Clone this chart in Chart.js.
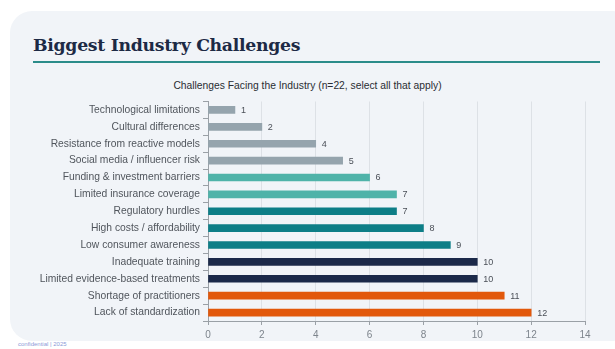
<!DOCTYPE html>
<html>
<head>
<meta charset="utf-8">
<script src="https://cdn.jsdelivr.net/npm/chart.js@4"></script>
<style>
  html, body { margin: 0; padding: 0; background: #fff; width: 615px; height: 349px; overflow: hidden; }
  #card {
    position: absolute; left: 10px; top: 11px; width: 625px; height: 330px;
    background: #f1f4f8; border-radius: 22px;
  }
  #heading {
    position: absolute; left: 33px; top: 35px; margin: 0;
    font-family: "DejaVu Serif", "Liberation Serif", serif; font-weight: bold;
    font-size: 17.3px; color: #1d2a45; letter-spacing: -0.3px;
  }
  #rule { position: absolute; left: 33px; top: 61px; width: 567px; height: 2px; background: #2b8c8a; }
  #subtitle {
    position: absolute; left: 0; top: 80px; width: 615px; text-align: center;
    font: 10.3px "Liberation Sans", Arial, sans-serif; color: #2a2d33;
  }
  #foot { position: absolute; left: 18px; top: 341px; font: 6px "Liberation Sans", Arial, sans-serif; color: #8c9ad8; }
  #wrap { position: absolute; left: 0; top: 90px; width: 615px; height: 255px; }
</style>
</head>
<body>
<div id="card"></div>
<h1 id="heading">Biggest Industry Challenges</h1>
<div id="rule"></div>
<div id="subtitle">Challenges Facing the Industry (n=22, select all that apply)</div>
<div id="foot">confidential | 2025</div>
<div id="wrap"><canvas id="chart"></canvas></div>
<script>
const categories = [
  'Technological limitations',
  'Cultural differences',
  'Resistance from reactive models',
  'Social media / influencer risk',
  'Funding & investment barriers',
  'Limited insurance coverage',
  'Regulatory hurdles',
  'High costs / affordability',
  'Low consumer awareness',
  'Inadequate training',
  'Limited evidence-based treatments',
  'Shortage of practitioners',
  'Lack of standardization'
];
const counts = [1, 2, 4, 5, 6, 7, 7, 8, 9, 10, 10, 11, 12];
const barColors = [
  '#95a4ad', '#95a4ad', '#95a4ad', '#95a4ad',
  '#4fb3a9', '#4fb3a9',
  '#0d7e87', '#0d7e87', '#0d7e87',
  '#1b2949', '#1b2949',
  '#e2580b', '#e2580b'
];
const xTicks = [0, 2, 4, 6, 8, 10, 12, 14];

// draws the value next to each bar end
const valueLabels = {
  id: 'valueLabels',
  afterDatasetsDraw(chart) {
    const ctx = chart.ctx;
    ctx.save();
    ctx.font = '9px "Liberation Sans", Arial, sans-serif';
    ctx.fillStyle = '#4a4f57';
    ctx.textBaseline = 'middle';
    chart.getDatasetMeta(0).data.forEach((bar, i) => {
      ctx.fillText(counts[i], bar.x + 6, bar.y + 0.5);
    });
    ctx.restore();
  }
};

new Chart(document.getElementById('chart'), {
  type: 'bar',
  data: {
    labels: categories,
    datasets: [{
      data: counts,
      backgroundColor: barColors,
      barThickness: 7
    }]
  },
  options: {
    indexAxis: 'y',
    responsive: true,
    maintainAspectRatio: false,
    animation: false,
    layout: { padding: { left: 0, right: 30, top: 11.5, bottom: 0 } },
    plugins: {
      legend: { display: false },
      tooltip: { enabled: false }
    },
    scales: {
      x: {
        min: 0,
        max: 14,
        afterBuildTicks(scale) { scale.ticks = xTicks.map(v => ({ value: v })); },
        grid: { color: '#dde1e6', tickLength: 4, tickColor: '#9aa0a6' },
        border: { color: '#9aa0a6' },
        ticks: { color: '#7d848c', font: { family: '"Liberation Sans", Arial, sans-serif', size: 10 }, padding: 4 }
      },
      y: {
        afterFit(scale) { scale.width = 208; },
        grid: { drawOnChartArea: false, tickLength: 5, tickColor: '#9aa0a6' },
        border: { color: '#9aa0a6' },
        ticks: { color: '#50555c', font: { family: '"Liberation Sans", Arial, sans-serif', size: 10.3 }, padding: 3 }
      }
    }
  },
  plugins: [valueLabels]
});
</script>
</body>
</html>
